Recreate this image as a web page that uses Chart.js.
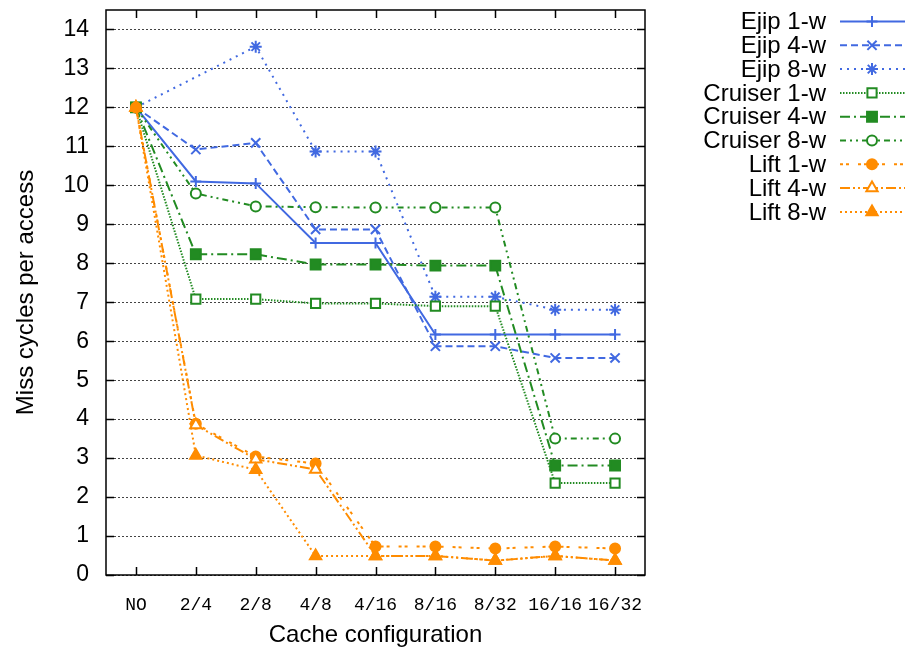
<!DOCTYPE html>
<html>
<head>
<meta charset="utf-8">
<script src="https://cdn.jsdelivr.net/npm/chart.js@4/dist/chart.umd.min.js"></script>
<style>
  html, body { margin: 0; padding: 0; background: #fff; }
  #wrap { width: 907px; height: 650px; }
</style>
</head>
<body>
<div id="wrap"><canvas id="myChart" width="907" height="650"></canvas></div>
<script>
// categories on the x axis
const categories = ["NO", "2/4", "2/8", "4/8", "4/16", "8/16", "8/32", "16/16", "16/32"];
const yTicks = [0, 1, 2, 3, 4, 5, 6, 7, 8, 9, 10, 11, 12, 13, 14];

// miss cycles per access
const ejip1 = [12, 10.1, 10.05, 8.52, 8.52, 6.17, 6.17, 6.17, 6.17];
const ejip4 = [12, 10.92, 11.09, 8.87, 8.87, 5.87, 5.87, 5.57, 5.57];
const ejip8 = [12, null, 13.56, 10.87, 10.87, 7.14, 7.14, 6.81, 6.81];
const cruiser1 = [12, 7.08, 7.08, 6.97, 6.97, 6.9, 6.9, 2.36, 2.36];
const cruiser4 = [12, 8.23, 8.23, 7.97, 7.97, 7.94, 7.94, 2.81, 2.81];
const cruiser8 = [12, 9.79, 9.46, 9.44, 9.43, 9.43, 9.43, 3.5, 3.5];
const lift1 = [12, 3.88, 3.04, 2.86, 0.73, 0.73, 0.68, 0.73, 0.68];
const lift4 = [12, 3.85, 2.97, 2.71, 0.49, 0.49, 0.37, 0.49, 0.37];
const lift8 = [12, 3.07, 2.7, 0.49, 0.49, 0.49, 0.37, 0.49, 0.37];

const BLUE = "#4169e1";
const GREEN = "#228b22";
const ORANGE = "#ff8c00";
const FONT = '"Liberation Sans", Arial, Helvetica, sans-serif';

function serie(label, data, color, dash, style, radius, fill){
    return {
        label: label,
        data: data,
        borderColor: color,
        borderWidth: 2,
        borderDash: dash,
        pointStyle: style,
        pointRadius: radius,
        pointBorderWidth: 2,
        pointBorderColor: color,
        pointBackgroundColor: fill,
        tension: 0,
        spanGaps: true,
        fill: false
    };
}

const datasets = [
    serie("Ejip 1-w", ejip1, BLUE, [], "cross", 5.5, BLUE),
    serie("Ejip 4-w", ejip4, BLUE, [7, 4], "crossRot", 6.5, BLUE),
    serie("Ejip 8-w", ejip8, BLUE, [2, 5], "star", 6, BLUE),
    serie("Cruiser 1-w", cruiser1, GREEN, [1.5, 1.5], "rect", 6.5, "#fff"),
    serie("Cruiser 4-w", cruiser4, GREEN, [10, 4, 2, 4], "rect", 7, GREEN),
    serie("Cruiser 8-w", cruiser8, GREEN, [6, 4, 2, 4, 2, 4], "circle", 5, "#fff"),
    serie("Lift 1-w", lift1, ORANGE, [3, 3, 3, 9], "circle", 5, ORANGE),
    serie("Lift 4-w", lift4, ORANGE, [10, 3, 2, 3, 2, 3], "triangle", 6.5, "#fff"),
    serie("Lift 8-w", lift8, ORANGE, [2, 3], "triangle", 6.5, ORANGE)
];
// gnuplot draws the last curve on top
datasets.forEach((d, i) => { d.order = datasets.length - i; });

// frame with inward ticks on all four sides
const marcoPlugin = {
    id: "marco",
    afterDatasetsDraw(chart){
        const ctx = chart.ctx;
        const a = chart.chartArea;
        const sx = chart.scales.x, sy = chart.scales.y;
        const L = 8;
        ctx.save();
        ctx.strokeStyle = "#000";
        ctx.lineWidth = 1.5;
        ctx.setLineDash([]);
        ctx.strokeRect(a.left, a.top, a.right - a.left, a.bottom - a.top);
        ctx.beginPath();
        for (const v of yTicks) {
            const y = Math.round(sy.getPixelForValue(v)) + 0.5;
            ctx.moveTo(a.left, y); ctx.lineTo(a.left + L, y);
            ctx.moveTo(a.right, y); ctx.lineTo(a.right - L, y);
        }
        categories.forEach((c, i) => {
            const x = Math.round(sx.getPixelForValue(i)) + 0.5;
            ctx.moveTo(x, a.bottom); ctx.lineTo(x, a.bottom - L);
            ctx.moveTo(x, a.top); ctx.lineTo(x, a.top + L);
        });
        ctx.stroke();
        ctx.restore();
    }
};

// key at the right, text then line sample with marker
const leyendaPlugin = {
    id: "leyenda",
    afterDraw(chart){
        const ctx = chart.ctx;
        chart.data.datasets.forEach((ds, i) => {
            const y = 21.5 + i * 23.8;
            ctx.save();
            ctx.font = "24px " + FONT;
            ctx.fillStyle = "#000";
            ctx.textAlign = "right";
            ctx.textBaseline = "middle";
            ctx.fillText(ds.label, 826, y + 1);
            ctx.strokeStyle = ds.borderColor;
            ctx.lineWidth = ds.borderWidth;
            ctx.setLineDash(ds.borderDash);
            ctx.beginPath();
            ctx.moveTo(840, y); ctx.lineTo(905, y);
            ctx.stroke();
            ctx.setLineDash([]);
            ctx.fillStyle = ds.pointBackgroundColor;
            ctx.strokeStyle = ds.borderColor;
            ctx.lineWidth = ds.pointBorderWidth;
            Chart.helpers.drawPoint(ctx, {
                pointStyle: ds.pointStyle,
                radius: ds.pointRadius,
                rotation: 0,
                borderWidth: ds.pointBorderWidth
            }, 872, y);
            ctx.restore();
        });
    }
};

const ctx = document.getElementById("myChart").getContext("2d");
new Chart(ctx, {
    type: "line",
    data: { labels: categories, datasets: datasets },
    plugins: [marcoPlugin, leyendaPlugin],
    options: {
        responsive: false,
        animation: false,
        layout: { padding: { left: 0, right: 262, top: 10, bottom: 0 } },
        plugins: { legend: { display: false }, tooltip: { enabled: false } },
        scales: {
            x: {
                type: "category",
                offset: true,
                afterFit(s){ s.height = 75; s.paddingLeft = 0; s.paddingRight = 0; },
                grid: { display: false, drawTicks: false },
                border: { display: false },
                ticks: {
                    color: "#000",
                    padding: 19,
                    maxRotation: 0,
                    autoSkip: false,
                    font: { family: '"Liberation Mono", "Courier New", monospace', size: 18 }
                },
                title: {
                    display: true,
                    text: "Cache configuration",
                    color: "#000",
                    padding: { top: 2, bottom: 0 },
                    font: { family: FONT, size: 24 }
                }
            },
            y: {
                min: 0,
                max: 14.5,
                afterFit(s){ s.width = 106; s.paddingTop = 0; s.paddingBottom = 0; },
                afterBuildTicks(s){ s.ticks = yTicks.map(v => ({ value: v })); },
                grid: { color: "#444", lineWidth: 1, drawTicks: false },
                border: { display: false, dash: [2, 2] },
                ticks: {
                    color: "#000",
                    padding: 17,
                    font: { family: FONT, size: 23 }
                },
                title: {
                    display: true,
                    text: "Miss cycles per access",
                    color: "#000",
                    padding: { top: 12, bottom: 0 },
                    font: { family: FONT, size: 24 }
                }
            }
        }
    }
});
</script>
</body>
</html>
